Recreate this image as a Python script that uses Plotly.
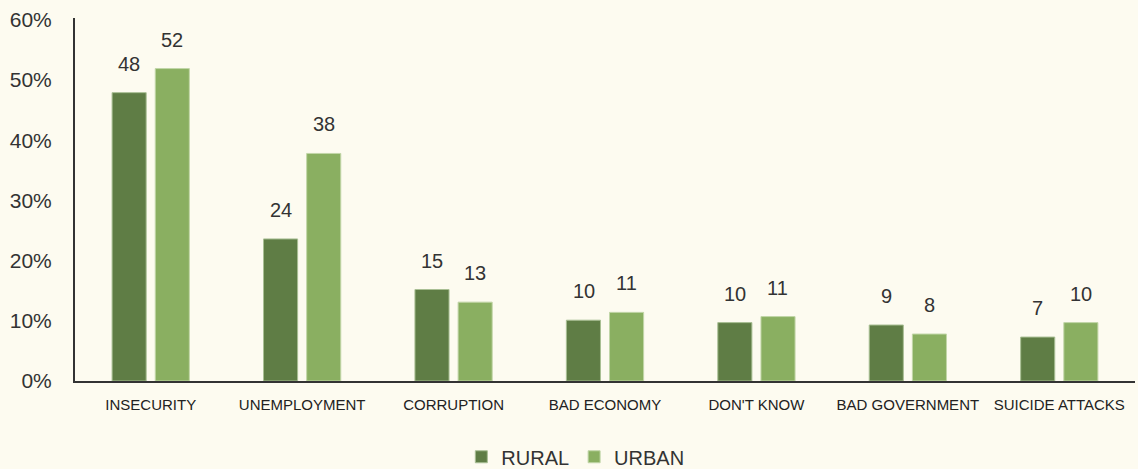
import plotly.graph_objects as go

# categories and survey shares (percent)
categories = ["INSECURITY", "UNEMPLOYMENT", "CORRUPTION", "BAD ECONOMY",
              "DON'T KNOW", "BAD GOVERNMENT", "SUICIDE ATTACKS"]
rural = [47.9, 23.6, 15.2, 10.1, 9.7, 9.3, 7.3]
urban = [51.9, 37.8, 13.1, 11.4, 10.7, 7.8, 9.7]
rural_labels = ["48", "24", "15", "10", "10", "9", "7"]
urban_labels = ["52", "38", "13", "11", "11", "8", "10"]
y_ticks = [0, 10, 20, 30, 40, 50, 60]

dark_green = "#5f7d45"
light_green = "#8aaf61"
bg = "#fdfbf0"

fig = go.Figure()
fig.add_trace(go.Bar(x=categories, y=rural, name="RURAL",
                     marker=dict(color=dark_green, line=dict(color="#a9bf94", width=1))))
fig.add_trace(go.Bar(x=categories, y=urban, name="URBAN",
                     marker=dict(color=light_green, line=dict(color="#c2d6a8", width=1))))

annotations = []
for labels, vals, shift in [(rural_labels, rural, -21.5), (urban_labels, urban, 21.5)]:
    for c, v, t in zip(categories, vals, labels):
        annotations.append(dict(x=c, y=v, text=t, showarrow=False, xshift=shift,
                                yshift=29, font=dict(size=20, color="#333333",
                                                     family="Liberation Sans")))

fig.update_layout(
    width=1138, height=469,
    paper_bgcolor=bg, plot_bgcolor=bg,
    margin=dict(l=75, r=3, t=18, b=88, autoexpand=False),
    barmode="group", bargap=0.43, bargroupgap=0.21,
    annotations=annotations,
    font=dict(family="Liberation Sans", color="#333333"),
    legend=dict(orientation="h", x=0.472, xanchor="center", y=-0.155, yanchor="top",
                font=dict(size=20, color="#333333"), itemwidth=30, traceorder="normal"),
    showlegend=True,
)
fig.update_xaxes(showline=True, linecolor="#333333", linewidth=2, showgrid=False,
                 ticks="", tickfont=dict(size=15, color="#222222"), ticklabelstandoff=9,
                 automargin=False)
fig.update_yaxes(range=[0, 60.3], tickvals=y_ticks, ticktext=[f"{v}%" for v in y_ticks],
                 showline=True, linecolor="#333333", linewidth=2, showgrid=False,
                 zeroline=False, ticks="", tickfont=dict(size=21), ticklabelstandoff=17,
                 automargin=False)

# drop the page's default body margin so the figure fills the window
fig.write_html("out.html", config={"displayModeBar": False},
               post_script="document.body.style.margin='0';"
                           "document.body.style.background='%s';" % bg)
